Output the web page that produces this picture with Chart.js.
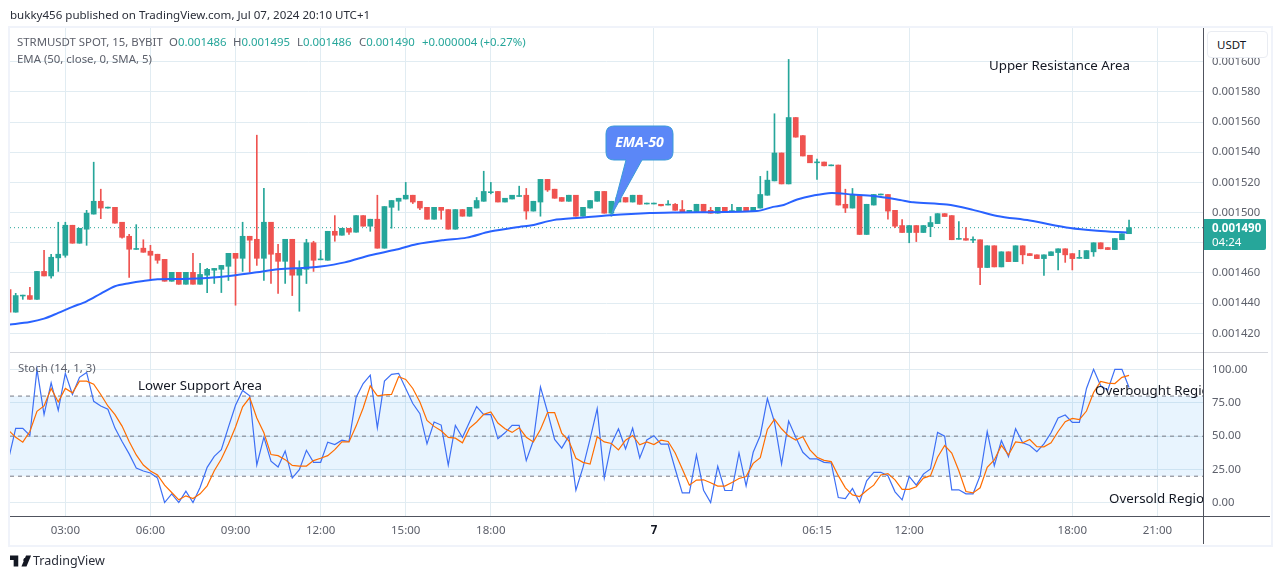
<!DOCTYPE html>
<html>
<head>
<meta charset="utf-8">
<title>STRMUSDT</title>
<script src="https://cdn.jsdelivr.net/npm/chart.js@4/dist/chart.umd.js"></script>
<style>
    html, body { margin: 0; padding: 0; background: #fff; overflow: hidden; }
    body { width: 1281px; height: 579px; position: relative; font-family: "Noto Sans", sans-serif; color: #131722; }
    canvas { position: absolute; left: 0; }
    #priceCanvas { top: 0; }
    #stochCanvas { top: 352px; }
    .txt { position: absolute; white-space: nowrap; line-height: 1; }
    .rule { position: absolute; }
    .up { color: #26a69a; }
    .legend { font-size: 11.4px; color: #5d606b; }
    .note { font-size: 13.3px; color: #131722; }
    #frame { position: absolute; left: 8px; top: 26px; width: 1261px; height: 517px; border: 2px solid #f0f3fa; }
    #noteClip { position: absolute; left: 10px; top: 352px; width: 1193px; height: 164px; overflow: hidden; }
    #usdtBox { position: absolute; left: 1207px; top: 31px; width: 59px; height: 25px; background: #fff; border: 1px solid #e9ecf2; border-radius: 4px; font-size: 11.5px; line-height: 25px; text-indent: 9px; }
    #lastTag { position: absolute; left: 1204px; top: 219px; width: 62px; height: 31px; background: #26a69a; color: #fff; border-radius: 0 2px 2px 0; }
    #callout { position: absolute; left: 0; top: 0; }
</style>
</head>
<body>
<canvas id="priceCanvas" width="1281" height="352"></canvas>
<canvas id="stochCanvas" width="1281" height="193"></canvas>

<div id="frame"></div>
<div class="rule" style="left:10px;top:352px;width:1258px;height:1px;background:#d6d8de"></div>
<div class="rule" style="left:1203px;top:28px;width:1px;height:516px;background:#50535e"></div>
<div class="rule" style="left:10px;top:516px;width:1260px;height:1px;background:#50535e"></div>

<div class="txt" style="left:10px;top:9px;font-size:11.55px;color:#2a2e39">bukky456 published on TradingView.com, Jul 07, 2024 20:10 UTC+1</div>
<div class="txt legend" style="left:17px;top:36px">STRMUSDT SPOT, 15, BYBIT</div>
<div class="txt legend" style="left:169px;top:36px">O<span class="up">0.001486</span></div>
<div class="txt legend" style="left:233px;top:36px">H<span class="up">0.001495</span></div>
<div class="txt legend" style="left:297px;top:36px">L<span class="up">0.001486</span></div>
<div class="txt legend" style="left:359px;top:36px">C<span class="up">0.001490</span></div>
<div class="txt legend" style="left:422px;top:36px"><span class="up">+0.000004 (+0.27%)</span></div>
<div class="txt legend" style="left:17px;top:53px">EMA (50, close, 0, SMA, 5)</div>
<div class="txt legend" style="left:18px;top:362px">Stoch (14, 1, 3)</div>

<div class="txt note" style="left:989px;top:59px">Upper Resistance Area</div>
<div id="noteClip">
    <div class="txt note" style="left:128px;top:27px">Lower Support Area</div>
    <div class="txt note" style="left:1085px;top:32px">Overbought Region</div>
    <div class="txt note" style="left:1099px;top:140px">Oversold Region</div>
</div>

<svg id="callout" width="1281" height="579">
    <path d="M614 126 H665 Q673 126 673 134 V152 Q673 160 665 160 H642 L611.5 215 L626 160 H614 Q606 160 606 152 V134 Q606 126 614 126 Z" fill="#5b87f7" stroke="#3a9bd8" stroke-width="1"></path>
    <text x="639.5" y="147" text-anchor="middle" font-family="Noto Sans" font-size="14" font-weight="700" font-style="italic" fill="#fff">EMA-50</text>
</svg>

<div id="usdtBox">USDT</div>
<div id="lastTag">
    <div class="txt" style="left:8px;top:3px;font-size:11.5px;font-weight:700">0.001490</div>
    <div class="txt" style="left:8px;top:17px;font-size:11.5px">04:24</div>
</div>

<svg style="position:absolute;left:10px;top:555px" width="22" height="12" viewBox="0 0 24 12">
    <path d="M0 0 H9 V12 H4 V5 H0 Z M17 2.5 a2.5 2.5 0 1 0 0.01 0 Z M18 12 L23 0 H17.5 L12.5 12 Z" fill="#131722"></path>
</svg>
<div class="txt" style="left:33px;top:555px;font-size:12.5px;color:#2a2e39">TradingView</div>

<script>
// candles, in millionths of a USDT (0.001490 -> 1490)
const opens = [
    1449,1434,1444.7,1445,1442.5,1461,1458,1470,1471.7,1491.6,
    1479.7,1489,1499,1507.5,1503,1503.5,1493.6,1484.3,1475.6,1476.4,
    1474.4,1472.4,1469,1454.5,1460.4,1452.5,1460.4,1452.5,1458.5,1461.8,
    1462.4,1464.4,1473,1469.7,1484.3,1482.3,1469.7,1493.6,1473,1467.7,
    1482.3,1458.5,1462.4,1480,1468.7,1468.4,1487.6,1485,1489.6,1487,
    1498,1491,1495.6,1476.4,1503.5,1507.5,1509,1511.5,1507.5,1503.5,
    1495.6,1503.5,1502,1489,1502,1497.6,1503,1507.5,1513.2,1514,
    1507,1509,1510.7,1511.5,1501,1507,1522,1515.5,1510,1507.5,
    1511.5,1497.6,1503,1507.5,1514,1499.6,1507,1510,1507,1511.5,
    1505.7,1505.7,1505.5,1505,1505.5,1502,1500.7,1500.7,1505.5,1501.5,
    1499.6,1503.5,1500.7,1500.7,1503.5,1500.7,1503,1511.5,1521,1539.5,
    1519,1563,1551,1538,1533,1533.5,1531,1531.5,1505.5,1503,
    1511.5,1485.5,1505,1511.7,1512,1501.5,1491.4,1486.8,1491.4,1486.8,
    1490.7,1492.7,1499.3,1498,1482.3,1482.8,1481.7,1482,1463.6,1478,
    1464,1474,1467.5,1478,1472.8,1472,1469.5,1471.5,1473.5,1476,
    1472.8,1469.7,1469.5,1474,1480,1476.8,1475.5,1482,1486
];
const highs = [
    1449,1446.5,1445.3,1450.5,1461,1475,1472.4,1493.6,1493.6,1491.6,
    1489.6,1501.5,1533.4,1515.5,1503.6,1503.5,1493.6,1485.6,1492,1482,
    1478.3,1472.4,1469,1460.4,1460.4,1460.4,1473,1466.4,1463,1463,
    1465,1473,1473,1493.6,1484.3,1551.3,1516,1493.6,1479,1482.3,
    1482.3,1468,1482.3,1481,1475,1487.6,1498,1489.6,1489.6,1498,
    1498,1495.6,1511.5,1504,1508,1509.5,1520,1511.5,1507.5,1503.5,
    1503.5,1503.5,1502,1502,1502,1503.5,1510,1527.4,1520,1514,
    1509.5,1511.5,1517.5,1516,1507.5,1522,1522,1515.5,1510,1511.5,
    1511.5,1503.5,1508,1514,1514,1507.5,1510,1510,1511.5,1511.5,
    1506.3,1506.3,1505.5,1508,1506,1508,1501.5,1505.5,1505.5,1503.5,
    1503.5,1503.5,1505.5,1503.5,1503.5,1503.5,1524,1527.5,1565.5,1539.5,
    1601.5,1563,1551,1538,1535.5,1533.5,1531.6,1531.5,1515.5,1516,
    1511.5,1505.5,1512,1512.3,1512,1501.5,1495.4,1491.4,1491.4,1491.4,
    1497.4,1499.3,1499.3,1498,1494,1490,1484,1482,1478,1478,
    1474,1474,1478,1478,1472.8,1472,1472,1474,1476,1476,
    1472.8,1475,1474.8,1480,1480,1476.8,1482.8,1486,1495
];
const lows = [
    1434,1434,1442.5,1442.5,1442.5,1458,1456.5,1461,1470.4,1479.7,
    1479.7,1478.3,1499,1496,1503,1493,1483,1457,1475.6,1473.7,
    1455,1466.4,1454.5,1454.5,1452.5,1452.5,1452.5,1452.5,1447,1453,
    1447,1455,1438.6,1461,1460.4,1465,1455,1453,1446.5,1453,
    1445,1434.6,1453,1461,1468.7,1468.4,1481,1485,1485.6,1487,
    1491,1487.6,1476.4,1476.4,1489.6,1501.5,1509,1506,1502,1495.6,
    1495.6,1495.6,1489,1489,1497.6,1497.6,1503,1507.5,1512.4,1507,
    1507,1509,1510.7,1495.6,1501,1497.6,1514,1509.5,1507.5,1507.5,
    1497.6,1497.6,1503,1507.5,1499.6,1497.6,1507,1507,1507,1505.5,
    1505.7,1505.7,1504.5,1505,1501.5,1500,1500.7,1500.7,1500.7,1499.6,
    1499.6,1500,1500.7,1500.7,1500.7,1500.7,1503,1511.5,1521,1519,
    1519,1550,1537.5,1533,1522,1531,1531,1505,1500,1503,
    1485.5,1485.5,1505,1511.7,1495.6,1490,1486.8,1480,1480.8,1486.8,
    1484,1492.7,1497.4,1482,1482.3,1481.7,1480,1452.3,1463.6,1464,
    1464,1467.5,1467.5,1466,1471.5,1469.5,1458.3,1471.5,1462,1467,
    1462,1469.7,1469.5,1471,1476,1475.5,1475.5,1482,1486
];
const closes = [
    1434,1445,1445.3,1442.5,1461,1458,1470.4,1472.4,1491.6,1479.7,
    1489.6,1499.6,1507.5,1503,1503.6,1493,1483.6,1475.7,1476.2,1473.7,
    1471.7,1468.4,1454.5,1460.4,1452.5,1460.4,1452.5,1459,1462.4,1463,
    1465,1473,1469.7,1484.3,1481.7,1469.7,1493.6,1472.4,1467.7,1482.3,
    1458.5,1463,1480,1468.4,1469.3,1487.6,1485,1489.6,1487,1498,
    1491,1495.6,1476.4,1504,1508,1509.5,1511.5,1507,1503,1495.6,
    1503.5,1501.5,1489,1502,1497.6,1503.5,1508,1514,1513.8,1507,
    1509.5,1511.5,1511.3,1501,1507.5,1522,1515,1509.5,1507.5,1511.5,
    1497.6,1503.5,1508,1514,1499.6,1507.5,1510,1507,1511.5,1505.5,
    1506.3,1506.3,1504.5,1505.6,1501.5,1500,1501.5,1505.5,1500.7,1499.6,
    1503.5,1500,1501.3,1503.5,1500.7,1503.5,1512,1521.5,1539.5,1519,
    1563,1550,1537.5,1533,1533.6,1531,1531.6,1505,1503,1512,
    1485.5,1505.5,1512,1512.3,1501,1491,1486.8,1491.4,1486.8,1491.4,
    1493.4,1499.3,1497.4,1482,1482.9,1481.7,1482.3,1463.6,1478,1464,
    1474,1467.5,1478,1472,1471.5,1469.5,1472,1474,1476,1472,
    1469.5,1470.3,1474.8,1480,1476,1475.5,1482.8,1486,1490
];

// EMA 50, read at the bars where the curve bends
const emaBars = [0,3,5,7,9,11,13,15,17,19,21,24,28,32,35,38,42,44,47.4,51,54.7,57.5,61.3,64.6,67.9,72,73.8,76.8,80.6,84.8,90.4,93.7,105.5,107.8,109.3,111.2,113.5,116,119,122,125.7,127.6,132.3,136,139.4,144,149.7,153.5,157.7];
const emaValues = [1425.7,1427.5,1429.7,1433.5,1437.5,1441.2,1446.3,1451.2,1453.2,1454.7,1455.8,1456,1456.7,1458.5,1460.4,1462.4,1463.5,1464.2,1467,1471.7,1475.5,1479,1481.7,1483.4,1487.4,1490.5,1491.6,1495,1496.6,1498.3,1499.8,1500,1501,1503.8,1505,1508.7,1511.3,1513,1512,1511,1508.4,1506.8,1505.3,1501.8,1497.8,1494.7,1489.8,1488,1486.8];

const stochK = [
    32.9,55.8,55.8,50.5,100,66.1,89.9,69.3,97,81.2,
    94,97.7,76.1,72.6,70.1,56,46,36.7,26.1,23.9,
    22.4,18.6,0.3,6.8,0.3,8.8,0.3,11.6,26.6,34.9,
    39.9,56.8,73.1,84.2,80.2,28.4,49.2,31.2,26.9,38.9,
    18.6,24.9,39.4,30.4,30.4,45.5,43.7,47,46,78.9,
    89.4,95.7,56.3,91.2,96.2,97,85.7,74.4,66.8,44.2,
    60.6,58.3,28.4,58,49,60.6,72.1,66.1,66.1,48,
    52.5,58,58,31.7,46.7,86.9,68.1,47.5,41,50,
    9.5,26.6,48,70.6,18.6,44.2,55.5,40.5,56,33.7,
    47.2,50.3,44,44,25.4,7.5,7.5,35.9,9.5,0.3,
    27.4,9.3,9.3,37.4,12.8,37.9,50.5,78.1,60.6,29.1,
    61.3,49.2,37.9,32.9,32.9,30.4,29.9,4,3.3,10.8,
    0.3,16.6,22.9,22.9,20.4,8.3,2.3,19.8,13.3,21.6,
    25.4,52.8,50,9.8,9.8,6.8,6.8,20.4,53.5,27.9,
    46.7,34.7,55.5,45,43,38.4,44.2,52.5,63.6,65.8,
    60.3,60.3,85.7,100,87.7,84.4,100,100,86.4
];
const stochD = [
    54.3,49.2,45.5,53.5,68.6,72.6,85.7,75.6,85.7,82.4,
    91.2,91.2,88.9,81.2,72.6,66.1,57.5,46,35.9,28.4,
    23.9,20.9,13.3,7.8,2.3,5.3,3.3,6.8,12.8,24.1,
    32.9,44.2,56.8,71.9,78.9,63.6,52.5,36.2,35.4,32.4,
    28.1,27.6,27.6,31.7,33.4,35.4,39.9,45.7,45.7,57.5,
    71.1,87.7,80.2,80.9,81.2,94.5,92.5,85.7,75.6,61.8,
    57.3,54,49,48.5,45,56,60.6,66.3,68.1,59.8,
    55.5,52.8,56.3,49.2,45.7,55,67.6,67.6,52.3,46.5,
    33.4,30.4,29.1,49.5,45.7,44.5,39.7,47,50.5,43.5,
    45.7,43.7,47,46,37.4,25.4,13.3,17.1,17.3,15.1,
    12.6,12.6,15.3,18.3,19.8,29.6,33.9,55,62.6,55.5,
    50,47,49.5,39.7,34.2,31.9,30.9,20.4,11.3,6,
    4.8,9.3,13.3,20.9,21.9,17.3,10.1,10.1,12.1,18.6,
    20.4,34.2,43,37.4,24.1,8.5,7.5,11.3,26.6,32.2,
    43,35.9,45.7,45,47.5,42.2,42,45,53.5,60.8,
    63.3,62.3,68.8,82.7,91,89.7,89.4,94,95.5
];

const priceTicks = [1420,1440,1460,1480,1500,1520,1540,1560,1580,1600];
const stochTicks = [0,25,50,75,100];
const lastPrice = 1490;
const stochLevels = [20,50,80];

// time axis is by bar number; the session has gaps so the labels are not evenly spaced
const timeTickBars = [8,20,32,44,56,68,91,114,127,150,162];
const timeTickLabels = ["03:00","06:00","09:00","12:00","15:00","18:00","7","06:15","12:00","18:00","21:00"];
const dayTickBar = 91;

const GREEN = "#26a69a";
const RED = "#ef5350";
const GRID = "#e1ecf2";
const TEXT = "#5d606b";
const FONT = "'Noto Sans', sans-serif";
const X_MIN = 0.197;
const X_MAX = 168.43;

const barColors = opens.map((o, i) => closes[i] >= o ? GREEN : RED);
const bars = opens.map((_, i) => i);

const setBarTicks = scale => { scale.ticks = timeTickBars.map(value => ({ value })); };
// keep the price axis a fixed width and stop its labels from shrinking the plot
const fixedWidth = scale => {
    scale.width = 65;
    scale.paddingTop = 0;
    scale.paddingBottom = 0;
};

const baseX = {
    type: "linear",
    offset: false,
    min: X_MIN,
    max: X_MAX,
    afterBuildTicks: setBarTicks,
    grid: { color: GRID, drawTicks: false, offset: false },
    border: { display: false }
};

const baseOptions = {
    responsive: false,
    animation: false,
    devicePixelRatio: 1,
    events: [],
    plugins: { legend: { display: false }, tooltip: { enabled: false } }
};

new Chart(document.getElementById("priceCanvas").getContext("2d"), {
    type: "bar",
    data: {
        datasets: [
            {
                type: "line",
                data: emaBars.map((x, i) => ({ x, y: emaValues[i] })),
                borderColor: "#2962ff",
                borderWidth: 2,
                pointRadius: 0,
                tension: 0.3,
                order: 0
            },
            {
                data: bars.map(i => ({ x: i, y: [opens[i], closes[i]] })),
                backgroundColor: barColors,
                barThickness: 5,
                grouped: false,
                order: 1
            },
            {
                data: bars.map(i => ({ x: i, y: [lows[i], highs[i]] })),
                backgroundColor: barColors,
                barThickness: 1,
                grouped: false,
                order: 2
            },
            {
                type: "line",
                data: [{ x: X_MIN, y: lastPrice }, { x: X_MAX, y: lastPrice }],
                borderColor: GREEN,
                borderWidth: 1,
                borderDash: [1, 3],
                pointRadius: 0,
                order: 3
            }
        ]
    },
    options: {
        ...baseOptions,
        layout: { padding: { left: 10, right: 13, top: 27, bottom: 0 } },
        scales: {
            x: { ...baseX, afterFit: scale => { scale.height = 0; }, ticks: { display: false } },
            y: {
                position: "right",
                min: 1407.6,
                max: 1623,
                afterBuildTicks: scale => { scale.ticks = priceTicks.map(value => ({ value })); },
                afterFit: fixedWidth,
                grid: { color: GRID, drawTicks: false },
                border: { display: false },
                ticks: {
                    padding: 9,
                    color: TEXT,
                    font: { family: FONT, size: 11.3 },
                    callback: v => (v / 1e6).toFixed(6)
                }
            }
        }
    }
});

const isDayTick = ctx => !!ctx.tick && ctx.tick.value === dayTickBar;

new Chart(document.getElementById("stochCanvas").getContext("2d"), {
    type: "line",
    data: {
        datasets: [
            {
                data: bars.map(i => ({ x: i, y: stochK[i] })),
                borderColor: "#3d6ff5",
                borderWidth: 1.2,
                pointRadius: 0,
                order: 1
            },
            {
                data: bars.map(i => ({ x: i, y: stochD[i] })),
                borderColor: "#ff6d00",
                borderWidth: 1.2,
                pointRadius: 0,
                order: 0
            },
            ...stochLevels.map(level => ({
                data: [{ x: X_MIN, y: level }, { x: X_MAX, y: level }],
                borderColor: "#787b86",
                borderWidth: 1,
                borderDash: [4, 4],
                pointRadius: 0,
                order: 2
            })),
            {
                // the shaded band between the two outer levels
                data: [{ x: X_MIN, y: stochLevels[2] }, { x: X_MAX, y: stochLevels[2] }],
                borderWidth: 0,
                pointRadius: 0,
                fill: { target: { value: stochLevels[0] }, above: "rgba(33,150,243,0.1)" },
                order: 3
            }
        ]
    },
    options: {
        ...baseOptions,
        layout: { padding: { left: 10, right: 13, top: 0, bottom: 0 } },
        scales: {
            x: {
                ...baseX,
                afterFit: scale => { scale.height = 29; },
                ticks: {
                    autoSkip: false,
                    maxRotation: 0,
                    padding: 8,
                    color: ctx => isDayTick(ctx) ? "#131722" : TEXT,
                    font: ctx => ({ family: FONT, size: 11.5, weight: isDayTick(ctx) ? "700" : "400" }),
                    callback: v => timeTickLabels[timeTickBars.indexOf(v)]
                }
            },
            y: {
                position: "right",
                min: -9.8,
                max: 113,
                afterBuildTicks: scale => { scale.ticks = stochTicks.map(value => ({ value })); },
                afterFit: fixedWidth,
                grid: { color: GRID, drawTicks: false },
                border: { display: false },
                ticks: {
                    padding: 9,
                    color: TEXT,
                    font: { family: FONT, size: 11.3 },
                    callback: v => v.toFixed(2)
                }
            }
        }
    }
});
</script>
</body>
</html>
